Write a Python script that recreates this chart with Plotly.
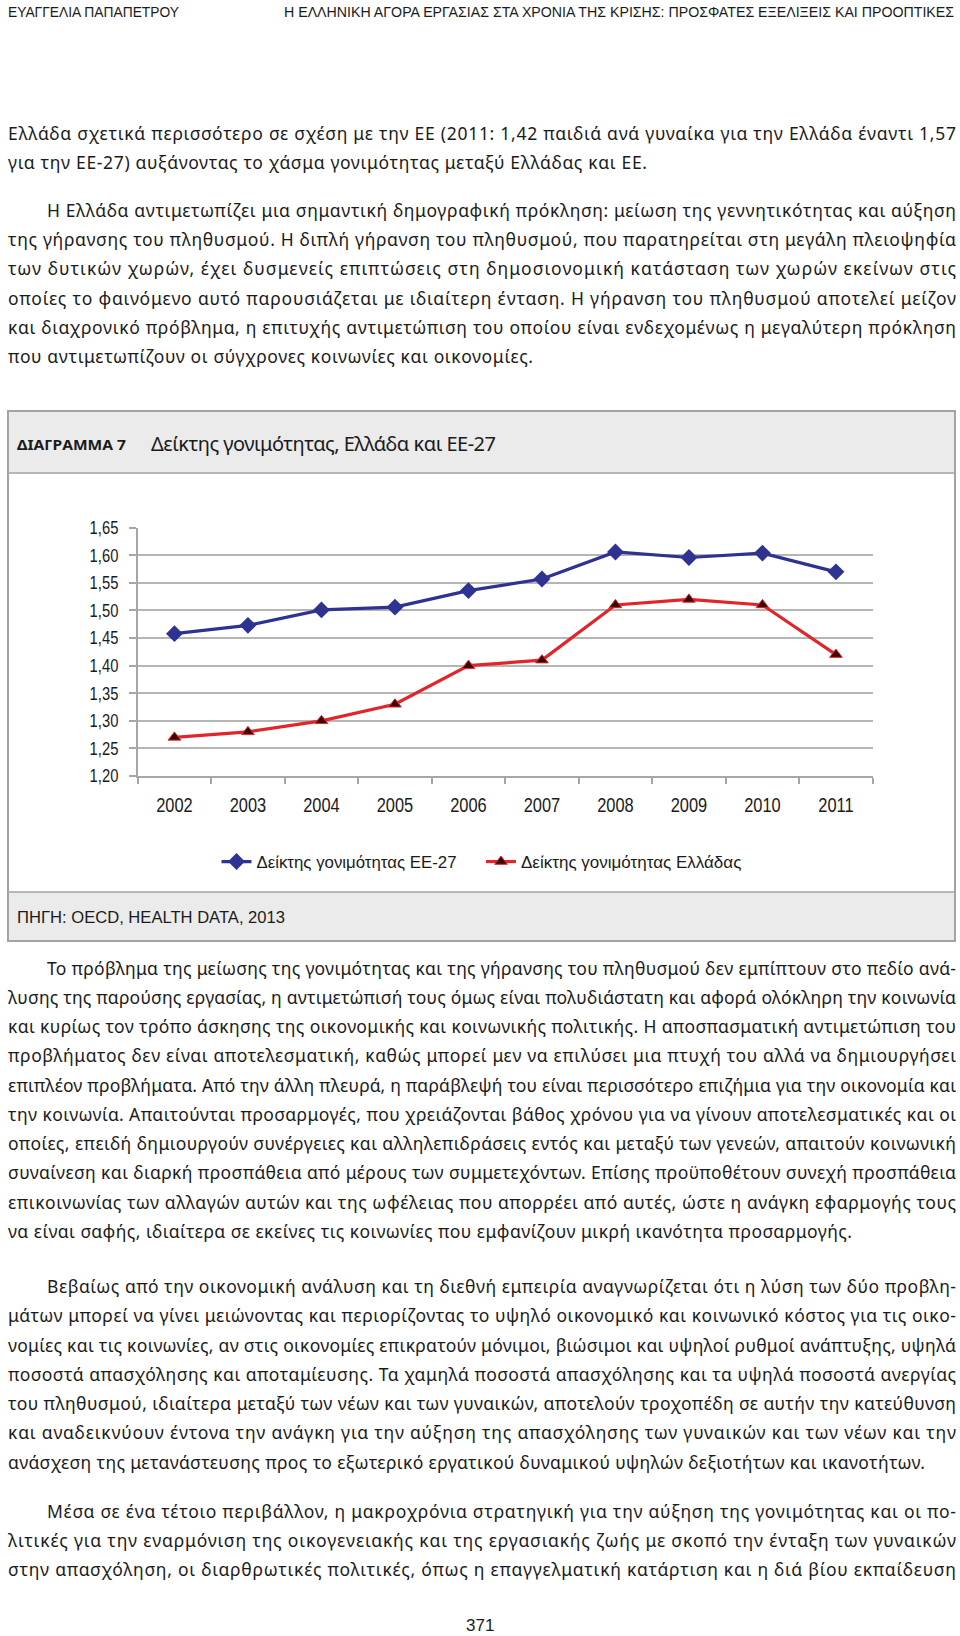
import json
import plotly.graph_objects as go

# ---------------- data ----------------
years = ['2002', '2003', '2004', '2005', '2006', '2007', '2008', '2009', '2010', '2011']
eu27 = [1.458, 1.473, 1.501, 1.506, 1.536, 1.557, 1.606, 1.596, 1.604, 1.57]
greece = [1.27, 1.28, 1.30, 1.33, 1.40, 1.41, 1.51, 1.52, 1.51, 1.42]
ytick_vals = [1.20, 1.25, 1.30, 1.35, 1.40, 1.45, 1.50, 1.55, 1.60, 1.65]
ytick_text = ['1,20', '1,25', '1,30', '1,35', '1,40', '1,45', '1,50', '1,55', '1,60', '1,65']
series_names = ['Δείκτης γονιμότητας ΕΕ-27', 'Δείκτης γονιμότητας Ελλάδας']

header_left = 'ΕΥΑΓΓΕΛΙΑ ΠΑΠΑΠΕΤΡΟΥ'
header_right = 'Η ΕΛΛΗΝΙΚΗ ΑΓΟΡΑ ΕΡΓΑΣΙΑΣ ΣΤΑ ΧΡΟΝΙΑ ΤΗΣ ΚΡΙΣΗΣ: ΠΡΟΣΦΑΤΕΣ ΕΞΕΛΙΞΕΙΣ ΚΑΙ ΠΡΟΟΠΤΙΚΕΣ'
chart_label = 'ΔΙΑΓΡΑΜΜΑ 7'
chart_title = 'Δείκτης γονιμότητας, Ελλάδα και ΕΕ-27'
source_text = 'ΠΗΓΗ: OECD, HEALTH DATA, 2013'
page_number = '371'

para1 = [
    'Ελλάδα σχετικά περισσότερο σε σχέση με την ΕΕ (2011: 1,42 παιδιά ανά γυναίκα για την Ελλάδα έναντι 1,57',
    'για την ΕΕ-27) αυξάνοντας το χάσμα γονιμότητας μεταξύ Ελλάδας και ΕΕ.',
]
para2 = [
    'Η Ελλάδα αντιμετωπίζει μια σημαντική δημογραφική πρόκληση: μείωση της γεννητικότητας και αύξηση',
    'της γήρανσης του πληθυσμού. Η διπλή γήρανση του πληθυσμού, που παρατηρείται στη μεγάλη πλειοψηφία',
    'των δυτικών χωρών, έχει δυσμενείς επιπτώσεις στη δημοσιονομική κατάσταση των χωρών εκείνων στις',
    'οποίες το φαινόμενο αυτό παρουσιάζεται με ιδιαίτερη ένταση. Η γήρανση του πληθυσμού αποτελεί μείζον',
    'και διαχρονικό πρόβλημα, η επιτυχής αντιμετώπιση του οποίου είναι ενδεχομένως η μεγαλύτερη πρόκληση',
    'που αντιμετωπίζουν οι σύγχρονες κοινωνίες και οικονομίες.',
]
para3 = [
    'Το πρόβλημα της μείωσης της γονιμότητας και της γήρανσης του πληθυσμού δεν εμπίπτουν στο πεδίο ανά-',
    'λυσης της παρούσης εργασίας, η αντιμετώπισή τους όμως είναι πολυδιάστατη και αφορά ολόκληρη την κοινωνία',
    'και κυρίως τον τρόπο άσκησης της οικονομικής και κοινωνικής πολιτικής. Η αποσπασματική αντιμετώπιση του',
    'προβλήματος δεν είναι αποτελεσματική, καθώς μπορεί μεν να επιλύσει μια πτυχή του αλλά να δημιουργήσει',
    'επιπλέον προβλήματα. Από την άλλη πλευρά, η παράβλεψή του είναι περισσότερο επιζήμια για την οικονομία και',
    'την κοινωνία. Απαιτούνται προσαρμογές, που χρειάζονται βάθος χρόνου για να γίνουν αποτελεσματικές και οι',
    'οποίες, επειδή δημιουργούν συνέργειες και αλληλεπιδράσεις εντός και μεταξύ των γενεών, απαιτούν κοινωνική',
    'συναίνεση και διαρκή προσπάθεια από μέρους των συμμετεχόντων. Επίσης προϋποθέτουν συνεχή προσπάθεια',
    'επικοινωνίας των αλλαγών αυτών και της ωφέλειας που απορρέει από αυτές, ώστε η ανάγκη εφαρμογής τους',
    'να είναι σαφής, ιδιαίτερα σε εκείνες τις κοινωνίες που εμφανίζουν μικρή ικανότητα προσαρμογής.',
]
para4 = [
    'Βεβαίως από την οικονομική ανάλυση και τη διεθνή εμπειρία αναγνωρίζεται ότι η λύση των δύο προβλη-',
    'μάτων μπορεί να γίνει μειώνοντας και περιορίζοντας το υψηλό οικονομικό και κοινωνικό κόστος για τις οικο-',
    'νομίες και τις κοινωνίες, αν στις οικονομίες επικρατούν μόνιμοι, βιώσιμοι και υψηλοί ρυθμοί ανάπτυξης, υψηλά',
    'ποσοστά απασχόλησης και αποταμίευσης. Τα χαμηλά ποσοστά απασχόλησης και τα υψηλά ποσοστά ανεργίας',
    'του πληθυσμού, ιδιαίτερα μεταξύ των νέων και των γυναικών, αποτελούν τροχοπέδη σε αυτήν την κατεύθυνση',
    'και αναδεικνύουν έντονα την ανάγκη για την αύξηση της απασχόλησης των γυναικών και των νέων και την',
    'ανάσχεση της μετανάστευσης προς το εξωτερικό εργατικού δυναμικού υψηλών δεξιοτήτων και ικανοτήτων.',
]
para5 = [
    'Μέσα σε ένα τέτοιο περιβάλλον, η μακροχρόνια στρατηγική για την αύξηση της γονιμότητας και οι πο-',
    'λιτικές για την εναρμόνιση της οικογενειακής και της εργασιακής ζωής με σκοπό την ένταξη των γυναικών',
    'στην απασχόληση, οι διαρθρωτικές πολιτικές, όπως η επαγγελματική κατάρτιση και η διά βίου εκπαίδευση',
]

# ---------------- page geometry (pixels) ----------------
W, H = 960, 1636


def px(x):
    return x / W


def py(y):
    return 1 - y / H


BLUE = '#2e3391'
RED = '#e2252b'
GRID = '#b5b5b5'
AXC = '#a6a6a6'
TXT = '#1b1b1b'
BODY_FONT = 'Noto Sans, Open Sans, DejaVu Sans, sans-serif'
NARROW = 'Liberation Sans, Arial, sans-serif'

fig = go.Figure()
fig.add_trace(go.Scatter(
    x=years, y=eu27, name=series_names[0], mode='lines+markers', legend='legend',
    line=dict(color=BLUE, width=3.2),
    marker=dict(symbol='diamond', size=13, color=BLUE),
))
fig.add_trace(go.Scatter(
    x=years, y=greece, name=series_names[1], mode='lines+markers', legend='legend2',
    line=dict(color=RED, width=3.2),
    marker=dict(symbol='triangle-up', size=11, color='#3a0508', line=dict(color=RED, width=1)),
))

shapes = [
    dict(type='rect', xref='paper', yref='paper', x0=px(8), x1=px(955), y0=py(473), y1=py(411),
         fillcolor='#ebebec', line=dict(width=0), layer='below'),
    dict(type='rect', xref='paper', yref='paper', x0=px(8), x1=px(955), y0=py(941), y1=py(892),
         fillcolor='#ebebec', line=dict(width=0), layer='below'),
    dict(type='line', xref='paper', yref='paper', x0=px(8), x1=px(955), y0=py(473), y1=py(473),
         line=dict(color='#a3a3a3', width=1.5)),
    dict(type='line', xref='paper', yref='paper', x0=px(8), x1=px(955), y0=py(892), y1=py(892),
         line=dict(color='#a3a3a3', width=1.5)),
    dict(type='rect', xref='paper', yref='paper', x0=px(8), x1=px(955), y0=py(941), y1=py(411),
         line=dict(color='#a3a3a3', width=2), fillcolor='rgba(0,0,0,0)'),
]

annotations = []
fit = {}


def add_text(text, x, y, size, font=BODY_FONT, xanchor='left', weight='normal', fit_mode=None, x_right=None):
    annotations.append(dict(
        text=text, xref='paper', yref='paper', x=px(x), y=py(y), xanchor=xanchor, yanchor='middle',
        align='left', showarrow=False, borderpad=0, borderwidth=0,
        font=dict(family=font, size=size, color=TXT, weight=weight),
    ))
    if fit_mode is not None:
        fit[str(len(annotations) - 1)] = [fit_mode, x_right - x]


# headers
add_text(header_left, 8, 12, 14.5, font=NARROW, fit_mode='scale', x_right=179)
add_text(header_right, 284, 12, 14.5, font=NARROW, fit_mode='scale', x_right=954)

# body paragraphs: (lines, first line y, indent first line, last line right edge)
LEFT, INDENT, RIGHT, STEP = 8, 47, 956, 29.25
paragraphs = [
    (para1, 132.5, False, 647),
    (para2, 210.0, True, 533),
    (para3, 967.5, True, 852),
    (para4, 1286.0, True, 925),
    (para5, 1510.5, True, RIGHT),
]
for lines, y0, indent_first, last_right in paragraphs:
    for i, line in enumerate(lines):
        x0 = INDENT if (indent_first and i == 0) else LEFT
        xr = last_right if i == len(lines) - 1 else RIGHT
        add_text(line, x0, y0 + i * STEP, 17.5, fit_mode='spacing', x_right=xr)

# chart box texts
add_text(chart_label, 17, 445, 13.5, weight='bold', fit_mode='scale', x_right=126)
add_text(chart_title, 151, 443.5, 20, fit_mode='spacing', x_right=496)
add_text(source_text, 17, 917, 17, font=NARROW, fit_mode='scale', x_right=285)
add_text(page_number, 480, 1625, 17, font=NARROW, xanchor='center')

legend_common = dict(orientation='h', yanchor='middle', xanchor='left',
                     font=dict(family=NARROW, size=17, color=TXT), itemwidth=30,
                     bgcolor='rgba(0,0,0,0)', borderwidth=0)

fig.update_layout(
    width=W, height=H, margin=dict(l=0, r=0, t=0, b=0, pad=0, autoexpand=False),
    paper_bgcolor='white', plot_bgcolor='white',
    showlegend=True,
    legend=dict(x=px(216.5), y=py(862), **legend_common),
    legend2=dict(x=px(481), y=py(862), **legend_common),
    xaxis=dict(domain=[px(137.7), px(872.7)], type='category', range=[-0.5, len(years) - 0.5],
               tickson='boundaries',
               ticks='outside', ticklen=6, tickwidth=1.5, tickcolor=AXC,
               showline=True, linecolor=AXC, linewidth=1.5, showgrid=False,
               tickfont=dict(family=NARROW, size=20, color=TXT), ticklabelstandoff=10,
               automargin=False, fixedrange=True),
    yaxis=dict(domain=[py(776), py(527.7)], range=[1.20, 1.65], tickvals=ytick_vals, ticktext=ytick_text,
               showgrid=True, gridcolor=GRID, gridwidth=1.5, zeroline=False,
               showline=True, linecolor=AXC, linewidth=1.5,
               ticks='outside', ticklen=7, tickwidth=1.5, tickcolor=AXC,
               tickfont=dict(family=NARROW, size=18, color=TXT), ticklabelstandoff=7,
               automargin=False, fixedrange=True),
    shapes=shapes,
    annotations=annotations,
)

legend_widths = [200, 221]

post_js = """
document.documentElement.style.margin = '0';
document.documentElement.style.overflow = 'hidden';
document.body.style.margin = '0';
document.body.style.padding = '0';
document.body.style.overflow = 'hidden';
var gd = document.getElementById('{plot_id}');
gd.style.position = 'absolute';
gd.style.left = '0px';
gd.style.top = '0px';
var FIT = __FIT__;
var LEG = __LEG__;
function condense(t, f) {
  t.removeAttribute('textLength');
  var L = t.getComputedTextLength();
  t.setAttribute('textLength', L * f);
  t.setAttribute('lengthAdjust', 'spacingAndGlyphs');
}
function fitText(){
  var groups = gd.querySelectorAll('g.annotation');
  for (var i = 0; i < groups.length; i++) {
    var g = groups[i];
    var k = g.getAttribute('data-index');
    if (!(k in FIT)) continue;
    var t = g.querySelector('text.annotation-text');
    if (!t) continue;
    var mode = FIT[k][0], w = FIT[k][1];
    t.setAttribute('textLength', w);
    t.setAttribute('lengthAdjust', mode === 'scale' ? 'spacingAndGlyphs' : 'spacing');
  }
  gd.querySelectorAll('g.xtick text, g.ytick text').forEach(function(t){ condense(t, 0.82); });
  var lt = gd.querySelectorAll('text.legendtext');
  for (var j = 0; j < lt.length && j < LEG.length; j++) {
    lt[j].setAttribute('textLength', LEG[j]);
    lt[j].setAttribute('lengthAdjust', 'spacingAndGlyphs');
  }
}
fitText();
gd.on('plotly_afterplot', fitText);
""".replace('__FIT__', json.dumps(fit)).replace('__LEG__', json.dumps(legend_widths))

fig.write_html('out.html', post_script=post_js, config={'displayModeBar': False})
